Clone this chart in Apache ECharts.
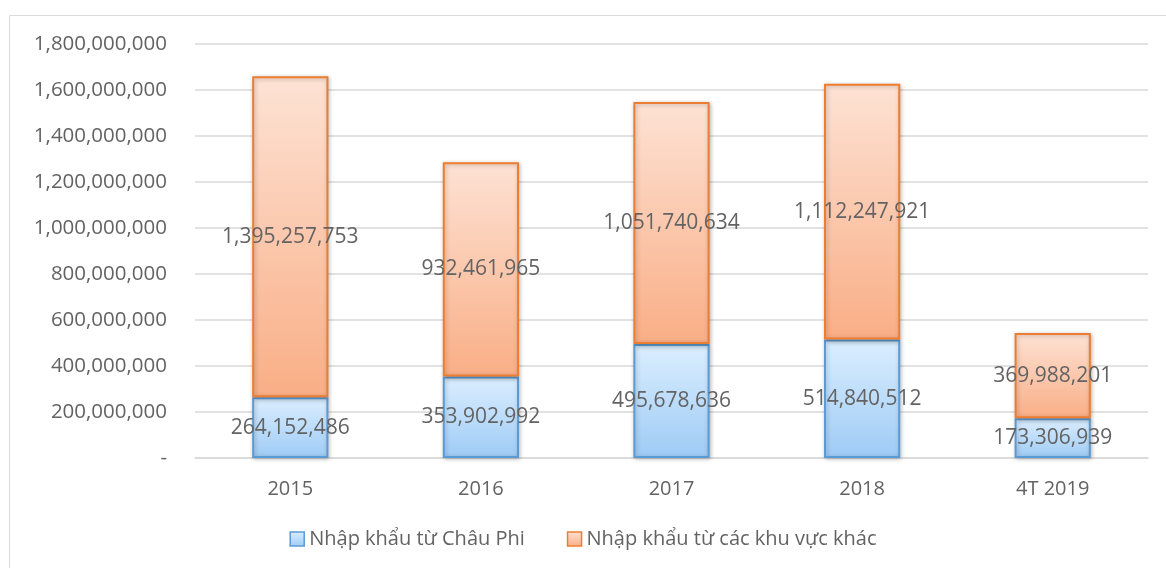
<!DOCTYPE html>
<html>
<head>
<meta charset="utf-8">
<script src="https://cdn.jsdelivr.net/npm/echarts@6/dist/echarts.min.js"></script>
<style>
	html, body { margin: 0; padding: 0; background: #fff; }
	#chart { width: 1166px; height: 568px; }
</style>
</head>
<body>
<div id="chart"></div>
<script>
// số liệu nhập khẩu
const categories = ['2015', '2016', '2017', '2018', '4T 2019']
const africa = [264152486, 353902992, 495678636, 514840512, 173306939]
const others = [1395257753, 932461965, 1051740634, 1112247921, 369988201]
const seriesNames = ['Nhập khẩu từ Châu Phi', 'Nhập khẩu từ các khu vực khác']

const FONT = '"Open Sans", "Noto Sans", sans-serif'
const TEXT = '#636363'

const fmt = (v) => v === 0 ? '-' : v.toLocaleString('en-US')

const grad = (top, bottom) => new echarts.graphic.LinearGradient(0, 0, 0, 1, [
	{ offset: 0, color: top },
	{ offset: 1, color: bottom }
])

const labelStyle = {
	show: true,
	position: 'inside',
	color: TEXT,
	fontSize: 21,
	fontFamily: FONT,
	formatter: (p) => fmt(p.value)
}

const myChart = echarts.init(document.getElementById('chart'))
myChart.setOption({
	animation: false,
	textStyle: { fontFamily: FONT },
	graphic: [
		{
			type: 'rect',
			shape: { x: 9.5, y: 15.5, width: 1200, height: 600 },
			style: { fill: 'none', stroke: '#d9d9d9', lineWidth: 1 },
			silent: true
		}
	],
	grid: {
		left: 195,
		right: 18,
		top: 44,
		bottom: 110
	},
	legend: {
		bottom: 14,
		left: 'center',
		itemWidth: 14,
		itemHeight: 14,
		itemGap: 42,
		textStyle: { color: TEXT, fontSize: 20, fontFamily: FONT },
		data: [
			{ name: seriesNames[0], icon: 'rect', itemStyle: { color: grad('#dbeeff', '#9ecbf5'), borderColor: '#5b9bd5', borderWidth: 1.5 } },
			{ name: seriesNames[1], icon: 'rect', itemStyle: { color: grad('#fde2d4', '#f9ae86'), borderColor: '#ed7d31', borderWidth: 1.5 } }
		]
	},
	xAxis: {
		type: 'category',
		data: categories,
		axisTick: { show: false },
		axisLine: { lineStyle: { color: '#d9d9d9', width: 1.5 } },
		axisLabel: { color: TEXT, fontSize: 20, fontFamily: FONT, margin: 21 }
	},
	yAxis: {
		type: 'value',
		min: 0,
		max: 1800000000,
		interval: 200000000,
		axisLine: { show: false },
		axisTick: { show: false },
		splitLine: { lineStyle: { color: '#d9d9d9', width: 1.5 } },
		axisLabel: { color: TEXT, fontSize: 20.5, fontFamily: FONT, margin: 28, formatter: fmt }
	},
	series: [
		{
			name: seriesNames[0],
			type: 'bar',
			stack: 'total',
			barWidth: '40%',
			data: africa,
			label: labelStyle,
			itemStyle: {
				color: grad('#dbeeff', '#9ecbf5'),
				borderColor: '#5b9bd5',
				borderWidth: 2,
				shadowColor: 'rgba(0,0,0,0.25)',
				shadowBlur: 4,
				shadowOffsetX: 1,
				shadowOffsetY: 1
			}
		},
		{
			name: seriesNames[1],
			type: 'bar',
			stack: 'total',
			barWidth: '40%',
			data: others,
			label: labelStyle,
			itemStyle: {
				color: grad('#fde2d4', '#f9ae86'),
				borderColor: '#ed7d31',
				borderWidth: 2,
				shadowColor: 'rgba(0,0,0,0.25)',
				shadowBlur: 4,
				shadowOffsetX: 1,
				shadowOffsetY: 1
			}
		}
	]
})
</script>
</body>
</html>
